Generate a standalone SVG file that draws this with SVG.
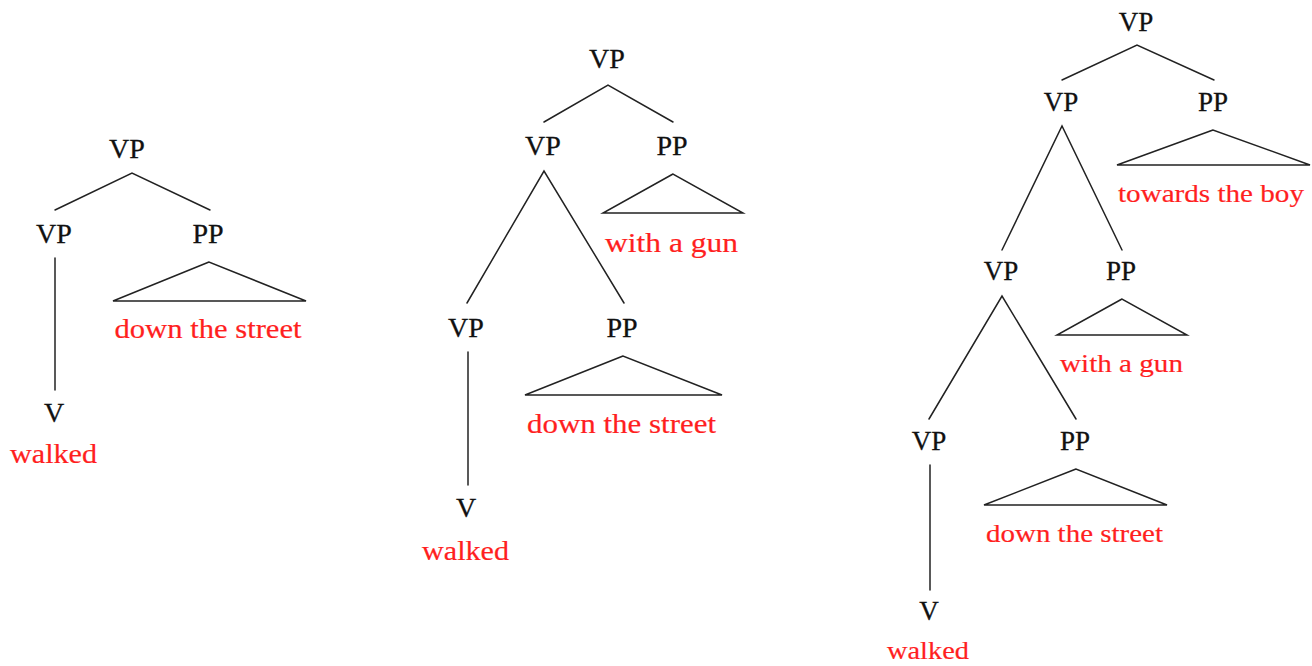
<svg xmlns="http://www.w3.org/2000/svg" width="1312" height="666" viewBox="0 0 1312 666">
<style>
  .cat { font-family: "Liberation Serif", "DejaVu Serif", serif; font-size: 28px; fill: #111; stroke: #111; stroke-width: 0.3; text-anchor: middle; }
  .cat3 { font-size: 27px; }
  .word { font-family: "Liberation Serif", "DejaVu Serif", serif; font-size: 27px; fill: #ff1f1f; stroke: #ff1f1f; stroke-width: 0.2; text-anchor: middle; }
  .word3 { font-size: 26px; }
  .edge { stroke: #222; stroke-width: 1.5; fill: none; stroke-linecap: round; }
</style>
<rect width="1312" height="666" fill="#ffffff"/>

<!-- Tree 1 -->
<g id="tree1">
  <g id="t1-vp-root"><text class="cat" x="127" y="158">VP</text></g>
  <g id="t1-vp"><text class="cat" x="54" y="243">VP</text></g>
  <g id="t1-pp"><text class="cat" x="208" y="243">PP</text>
    <text class="word" x="208" y="338" textLength="187" lengthAdjust="spacingAndGlyphs">down the street</text></g>
  <g id="t1-v"><text class="cat" x="54" y="422">V</text>
    <text class="word" x="53.5" y="463" textLength="87" lengthAdjust="spacingAndGlyphs">walked</text></g>
  <g id="t1-edges">
    <polyline class="edge" points="55,210 132,173 210,210"/>
    <line class="edge" x1="55" y1="258" x2="55" y2="390"/>
    <polygon class="edge" points="209,262 113,301 306,301"/>
  </g>
</g>

<!-- Tree 2 -->
<g id="tree2">
  <g id="t2-vp-root"><text class="cat" x="607" y="68">VP</text></g>
  <g id="t2-vp1"><text class="cat" x="543" y="155">VP</text></g>
  <g id="t2-pp1"><text class="cat" x="672" y="155">PP</text>
    <text class="word" x="671.5" y="252" textLength="133" lengthAdjust="spacingAndGlyphs">with a gun</text></g>
  <g id="t2-vp2"><text class="cat" x="466" y="337">VP</text></g>
  <g id="t2-pp2"><text class="cat" x="622" y="337">PP</text>
    <text class="word" x="621.5" y="433" textLength="189" lengthAdjust="spacingAndGlyphs">down the street</text></g>
  <g id="t2-v"><text class="cat" x="466" y="517">V</text>
    <text class="word" x="465.5" y="560" textLength="87" lengthAdjust="spacingAndGlyphs">walked</text></g>
  <g id="t2-edges">
    <polyline class="edge" points="544,122 608,85 673,122"/>
    <polyline class="edge" points="467,303 544,171 624,303"/>
    <polygon class="edge" points="673,174 603,213 743,213"/>
    <line class="edge" x1="468" y1="352" x2="468" y2="485"/>
    <polygon class="edge" points="623,356 525,395 722,395"/>
  </g>
</g>

<!-- Tree 3 -->
<g id="tree3">
  <g id="t3-vp-root"><text class="cat cat3" x="1136" y="31">VP</text></g>
  <g id="t3-vp1"><text class="cat cat3" x="1061" y="111">VP</text></g>
  <g id="t3-pp1"><text class="cat cat3" x="1213" y="111">PP</text>
    <text class="word word3" x="1211" y="202" textLength="186" lengthAdjust="spacingAndGlyphs">towards the boy</text></g>
  <g id="t3-vp2"><text class="cat cat3" x="1001" y="280">VP</text></g>
  <g id="t3-pp2"><text class="cat cat3" x="1121" y="280">PP</text>
    <text class="word word3" x="1121.5" y="372" textLength="123" lengthAdjust="spacingAndGlyphs">with a gun</text></g>
  <g id="t3-vp3"><text class="cat cat3" x="929" y="450">VP</text></g>
  <g id="t3-pp3"><text class="cat cat3" x="1075" y="450">PP</text>
    <text class="word word3" x="1074.5" y="542" textLength="177" lengthAdjust="spacingAndGlyphs">down the street</text></g>
  <g id="t3-v"><text class="cat cat3" x="929" y="620">V</text>
    <text class="word word3" x="928" y="659" textLength="82" lengthAdjust="spacingAndGlyphs">walked</text></g>
  <g id="t3-edges">
    <polyline class="edge" points="1062,80 1137,45 1214,80"/>
    <polyline class="edge" points="1002,250 1062,126 1122,250"/>
    <polygon class="edge" points="1213,130 1117,165 1310,165"/>
    <polyline class="edge" points="929,419 1002,296 1076,419"/>
    <polygon class="edge" points="1122,299 1057,335 1187,335"/>
    <line class="edge" x1="930" y1="465" x2="930" y2="590"/>
    <polygon class="edge" points="1076,469 984,505 1167,505"/>
  </g>
</g>
</svg>
